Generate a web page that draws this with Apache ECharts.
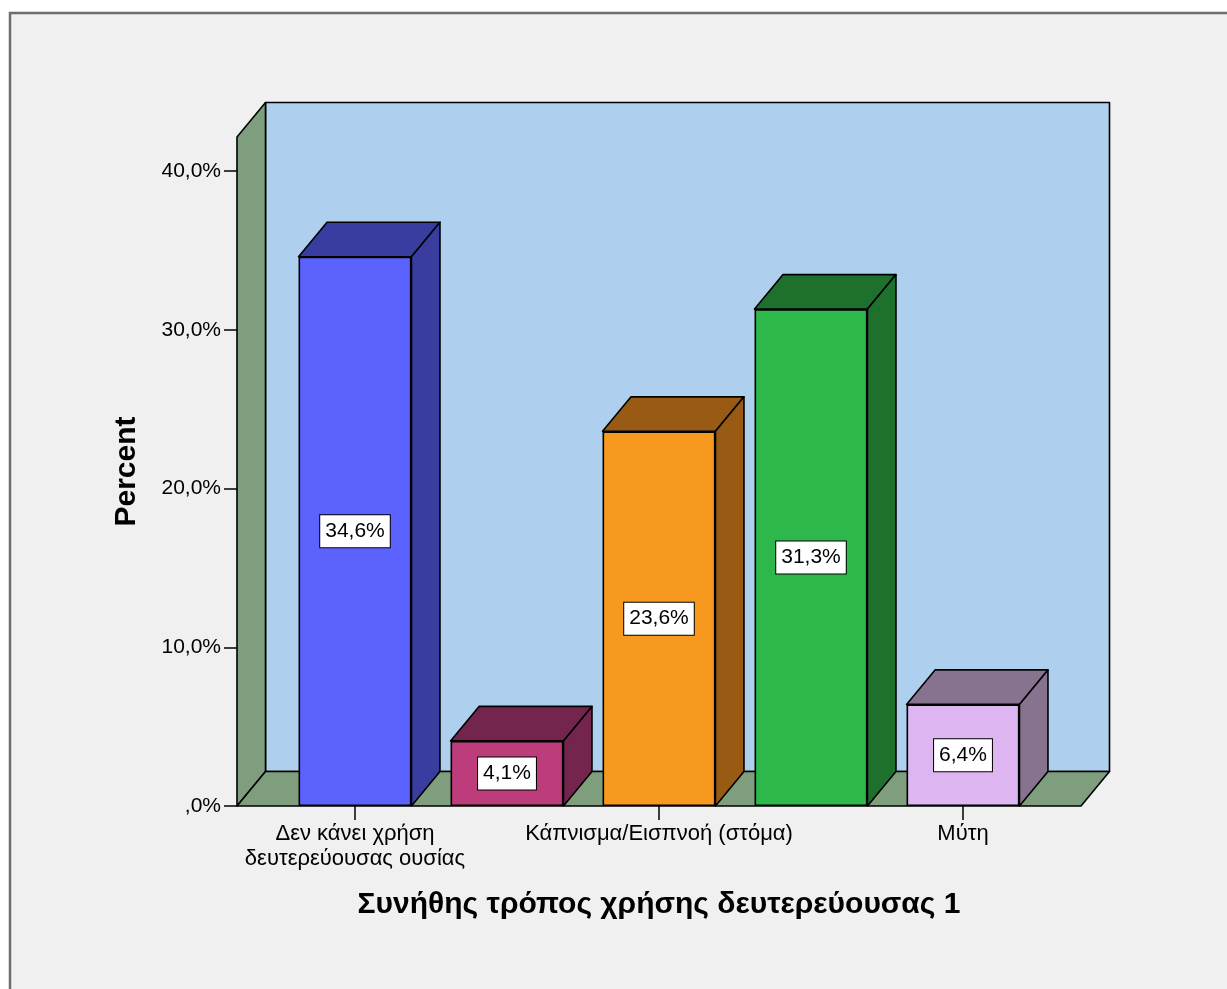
<!DOCTYPE html>
<html><head><meta charset="utf-8">
<script src="https://cdn.jsdelivr.net/npm/echarts@6/dist/echarts.min.js"></script>
<style>html,body{margin:0;padding:0;background:#fff;overflow:hidden}#c{width:1227px;height:989px}</style>
</head><body><div id="c"></div>
<script>
// ---- data ----
const categories = ['Δεν κάνει χρήση\nδευτερεύουσας ουσίας', '', 'Κάπνισμα/Εισπνοή (στόμα)', '', 'Μύτη'];
const percentValues = [34.6, 4.1, 23.6, 31.3, 6.4];
const yMin = 0, yMax = 40, yStep = 10;
const wallTopValue = 42.14;
const xTitle = 'Συνήθης τρόπος χρήσης δευτερεύουσας 1';
const yTitle = 'Percent';

// ---- styles ----
const frontColors = ['#5b62fe', '#bd3d7c', '#f7981f', '#2eb74a', '#dcb5f1'];
const darkColors  = ['#393d9f', '#73254e', '#995b14', '#1e712d', '#87738f'];
const WALL_GREEN = '#7e9e7e', WALL_BLUE = '#aed0ee';
const DX = 28.5, DY = -34.5, SIDE_PAD = 42, BAR_RATIO = 0.743;
const FONT = "'Liberation Sans', Arial, sans-serif";

function fmtPct(v) { return v === 0 ? ',0%' : v.toFixed(1).replace('.', ',') + '%'; }

function renderWalls(params, api) {
  const cs = params.coordSys;
  const y0 = api.coord([0, 0])[1];
  const yT = api.coord([0, wallTopValue])[1];
  const xl = cs.x - SIDE_PAD, xr = cs.x + cs.width + SIDE_PAD;
  const st = (fill) => ({ fill: fill, stroke: '#000', lineWidth: 1.6, lineJoin: 'round' });
  return { type: 'group', children: [
    { type: 'polygon', shape: { points: [[xl + DX, yT + DY], [xr + DX, yT + DY], [xr + DX, y0 + DY], [xl + DX, y0 + DY]] }, style: st(WALL_BLUE) },
    { type: 'polygon', shape: { points: [[xl, yT], [xl + DX, yT + DY], [xl + DX, y0 + DY], [xl, y0]] }, style: st(WALL_GREEN) },
    { type: 'polygon', shape: { points: [[xl, y0], [xl + DX, y0 + DY], [xr + DX, y0 + DY], [xr, y0]] }, style: st(WALL_GREEN) }
  ]};
}

function renderBar3D(params, api) {
  const i = api.value(0), v = api.value(1);
  const c0 = api.coord([i, 0]), c1 = api.coord([i, v]);
  const w = api.size([1, 0])[0] * BAR_RATIO;
  const xl = c0[0] - w / 2, xr = c0[0] + w / 2, yb = c0[1], yt = c1[1];
  const st = { fill: darkColors[params.dataIndex], stroke: '#000', lineWidth: 1.6, lineJoin: 'round' };
  return { type: 'group', children: [
    { type: 'polygon', shape: { points: [[xl, yt], [xr, yt], [xr + DX, yt + DY], [xl + DX, yt + DY]] }, style: st },
    { type: 'polygon', shape: { points: [[xr, yt], [xr + DX, yt + DY], [xr + DX, yb + DY], [xr, yb]] }, style: st }
  ]};
}

const chart = echarts.init(document.getElementById('c'), null, { renderer: 'canvas' });
chart.setOption({
  backgroundColor: '#ffffff',
  animation: false,
  graphic: [{
    type: 'rect', z: -10, silent: true,
    shape: { x: 10, y: 13, width: 1240, height: 1000 },
    style: { fill: '#f0f0f0', stroke: '#6e6e6e', lineWidth: 2.5 }
  }],
  grid: { left: 279, right: 188, top: 171, bottom: 183, containLabel: false },
  xAxis: {
    type: 'category',
    data: categories,
    axisLine: { show: false },
    axisTick: { show: true, alignWithLabel: true, interval: 1, length: 14, lineStyle: { color: '#000', width: 1.5 } },
    axisLabel: { interval: 1, margin: 15, color: '#000', fontFamily: FONT, fontSize: 22, lineHeight: 25 },
    name: xTitle,
    nameLocation: 'middle',
    nameGap: 84,
    nameTextStyle: { color: '#000', fontFamily: FONT, fontSize: 30, fontWeight: 'bold' }
  },
  yAxis: {
    type: 'value',
    min: yMin, max: yMax, interval: yStep,
    offset: SIDE_PAD,
    axisLine: { show: false },
    axisTick: { show: true, length: 13, lineStyle: { color: '#000', width: 1.5 } },
    splitLine: { show: false },
    axisLabel: { margin: 16, color: '#000', fontFamily: FONT, fontSize: 21, formatter: fmtPct },
    name: yTitle,
    nameLocation: 'middle',
    nameRotate: 90,
    nameGap: 95,
    nameTextStyle: { color: '#000', fontFamily: FONT, fontSize: 30, fontWeight: 'bold', padding: [0, 0, 0, 34] }
  },
  series: [
    { type: 'custom', z: 1, renderItem: renderWalls, data: [[0, 0]], silent: true },
    { type: 'custom', z: 2, renderItem: renderBar3D, data: percentValues.map((v, i) => [i, v]), silent: true },
    {
      type: 'bar', z: 3,
      barWidth: (BAR_RATIO * 100) + '%',
      data: percentValues.map((v, i) => ({ value: v, itemStyle: { color: frontColors[i] } })),
      itemStyle: { borderColor: '#000', borderWidth: 1.6 },
      label: {
        show: true, position: 'inside',
        formatter: (p) => fmtPct(p.value),
        color: '#000', fontFamily: FONT, fontSize: 21,
        backgroundColor: '#fff', borderColor: '#000', borderWidth: 1,
        padding: [6, 5, 5, 5]
      }
    }
  ]
});
</script></body></html>
